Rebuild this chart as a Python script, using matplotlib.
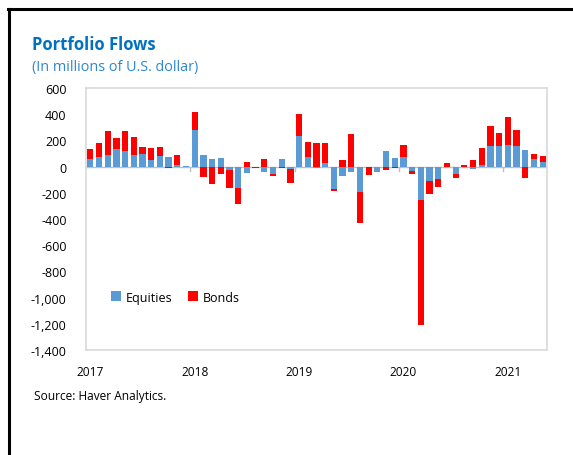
import matplotlib
matplotlib.use("Agg")
import matplotlib.pyplot as plt
from matplotlib.lines import Line2D
import numpy as np

plt.rcParams['font.family'] = ['Open Sans', 'DejaVu Sans']

# monthly flows, Jan 2017 - May 2021 (millions of US$)
equities = [60, 74, 86, 132, 119, 86, 99, 48, 79, 76, 10, 2,
            279, 86, 58, 66, -25, -165, -51, -3, -43, -60, 58, -20,
            231, 74, -10, 25, -168, -71, -41, -194, -5, -38, 117, 69,
            71, -36, -255, -107, -91, 0, -58, 0, -20, 13, 157, 157,
            168, 157, 130, 58, 33]
bonds = [77, 109, 183, 86, 150, 143, 51, 94, 73, -8, 81, -5,
         138, -81, -130, -58, -135, -122, 33, -10, 58, -8, -8, -102,
         168, 117, 178, 158, -20, 48, 251, -239, -62, 0, -25, -13,
         94, -22, -956, -99, -61, 28, -31, 13, 53, 127, 150, 102,
         208, 122, -84, 41, 51]
years = ["2017", "2018", "2019", "2020", "2021"]
yticks = [600, 400, 200, 0, -200, -400, -600, -800, -1000, -1200, -1400]

blue = "#5B9BD5"
red = "#FF0000"

eq = np.array(equities, dtype=float)
bd = np.array(bonds, dtype=float)
x = np.arange(len(eq))

# excel-style stacking: positives go up, negatives go down
bd_bottom = np.where(np.sign(bd) == np.sign(eq), eq, 0)

fig = plt.figure(figsize=(5.73, 4.56), dpi=100)
ax = fig.add_axes([0.150, 0.2303, 0.8046, 0.5745])

ax.bar(x, eq, width=0.72, color=blue, label="Equities", zorder=2)
ax.bar(x, bd, width=0.72, bottom=bd_bottom, color=red, label="Bonds", zorder=2)

ax.axhline(0, color="#BFBFBF", lw=1, zorder=1)
# small tick marks on the category axis between years
for k in range(1, len(years)):
    ax.plot([12 * k - 0.5] * 2, [0, -30], color="#BFBFBF", lw=1, zorder=1)

ax.set_xlim(-0.5, len(eq) - 0.5)
ax.set_ylim(-1400, 600)
ax.set_yticks(yticks)
ax.set_yticklabels([f"{v:,}" for v in yticks])
ax.set_xticks(np.arange(0, len(eq), 12))
ax.set_xticklabels(years)
ax.tick_params(axis="y", length=0, labelsize=9, colors="#000000", pad=14)
ax.tick_params(axis="x", length=0, labelsize=8.6, colors="#000000", pad=11)
for s in ax.spines.values():
    s.set_color("#D9D9D9")
    s.set_linewidth(1.2)

ax.legend(loc="upper left", bbox_to_anchor=(0.03, 0.27), ncol=2, frameon=False,
          fontsize=9, handlelength=0.8, handleheight=0.8, handletextpad=0.4,
          columnspacing=1.2)

fig.text(0.056, 0.902, "Portfolio Flows", fontsize=12, fontweight="bold",
         color="#0070C0", va="center")
fig.text(0.056, 0.853, "(In millions of U.S. dollar)", fontsize=10.4,
         color="#2E86CF", va="center")
fig.text(0.059, 0.130, "Source: Haver Analytics.", fontsize=8.6, va="center")

# black frame on the left and top
fig.add_artist(Line2D([0.015, 0.015], [0, 0.978], color="black", lw=2.2,
                      transform=fig.transFigure))
fig.add_artist(Line2D([0.0135, 1.0], [0.978, 0.978], color="black", lw=2.2,
                      transform=fig.transFigure))

fig.savefig("out.png", dpi=100)
